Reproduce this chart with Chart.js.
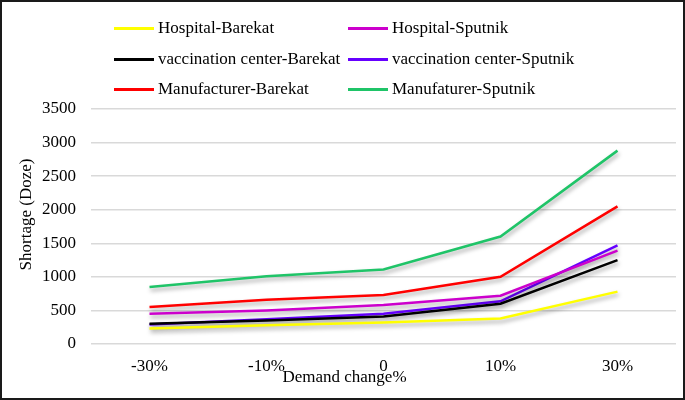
<!DOCTYPE html>
<html>
<head>
<meta charset="utf-8">
<script src="https://cdn.jsdelivr.net/npm/chart.js@4/dist/chart.umd.min.js"></script>
<style>
  html, body { margin:0; padding:0; background:#fff; }
  #wrap { position:relative; width:685px; height:400px; overflow:hidden; }
  #frame { position:absolute; left:0; top:0; width:685px; height:400px; box-sizing:border-box; border:2px solid #1a1a1a; pointer-events:none; }
  #legend { position:absolute; left:0; top:0; width:685px; font-family:'Liberation Serif', serif; font-size:17px; color:#000; }
  .lg-item { position:absolute; height:20px; line-height:20px; white-space:nowrap; }
  .lg-line { position:absolute; left:0; top:9px; width:40px; height:3px; }
  .lg-text { position:absolute; left:44px; top:0; }
</style>
</head>
<body>
<div id="wrap">
  <canvas id="chart" width="685" height="400"></canvas>
  <div id="legend"></div>
  <div id="frame"></div>
</div>
<script>
// ── Shortage vs demand change ──

const categories = ['-30%', '-10%', '0', '10%', '30%'];
const yTicks = [0, 500, 1000, 1500, 2000, 2500, 3000, 3500];

const hospitalBarekat   = [230, 280, 320, 380, 780];
const hospitalSputnik   = [450, 500, 580, 720, 1390];
const vaccCenterBarekat = [300, 350, 410, 600, 1250];
const vaccCenterSputnik = [290, 370, 450, 635, 1470];
const manufBarekat      = [550, 660, 730, 1000, 2050];
const manufSputnik      = [850, 1010, 1110, 1600, 2880];

const SERIES = [
  { label:'Hospital-Barekat',           data:hospitalBarekat,   color:'#ffff00' },
  { label:'Hospital-Sputnik',           data:hospitalSputnik,   color:'#cc00cc' },
  { label:'vaccination center-Barekat', data:vaccCenterBarekat, color:'#000000' },
  { label:'vaccination center-Sputnik', data:vaccCenterSputnik, color:'#6600ff' },
  { label:'Manufacturer-Barekat',       data:manufBarekat,      color:'#ff0000' },
  { label:'Manufaturer-Sputnik',        data:manufSputnik,      color:'#1fc468' },
];

const X_TITLE = 'Demand change%';
const Y_TITLE = 'Shortage (Doze)';
const FONT = { family:"'Liberation Serif', serif", size:17 };

// soft drop shadow under the lines
const shadowPlugin = {
  id:'lineShadow',
  beforeDatasetsDraw(chart) {
    const ctx = chart.ctx;
    ctx.save();
    ctx.shadowColor = 'rgba(0,0,0,0.35)';
    ctx.shadowBlur = 4;
    ctx.shadowOffsetX = 1;
    ctx.shadowOffsetY = 3;
  },
  afterDatasetsDraw(chart) { chart.ctx.restore(); }
};

// axis titles sit a little off-centre in the original, so draw them here
const titlePlugin = {
  id:'axisTitles',
  afterDraw(chart) {
    const { ctx, chartArea:a } = chart;
    ctx.save();
    ctx.font = `${FONT.size}px ${FONT.family}`;
    ctx.fillStyle = '#000';
    ctx.textAlign = 'center';
    ctx.textBaseline = 'middle';
    ctx.fillText(X_TITLE, (a.left + a.right) / 2 - 39, a.bottom + 34);
    ctx.translate(a.left - 64, (a.top + a.bottom) / 2 - 12);
    ctx.rotate(-Math.PI / 2);
    ctx.fillText(Y_TITLE, 0, 0);
    ctx.restore();
  }
};

new Chart(document.getElementById('chart'), {
  type:'line',
  data:{
    labels:categories,
    datasets:SERIES.map(s => ({
      label:s.label, data:s.data, borderColor:s.color, backgroundColor:s.color,
      borderWidth:2.5, pointRadius:0, tension:0, fill:false
    }))
  },
  options:{
    responsive:false, animation:false, devicePixelRatio:1,
    layout:{ padding:{ left:8, top:109, right:9, bottom:8 } },
    plugins:{ legend:{ display:false }, tooltip:{ enabled:false } },
    scales:{
      x:{
        offset:true,
        grid:{ display:false, drawTicks:false },
        border:{ display:false },
        ticks:{ color:'#000', font:FONT, padding:12, maxRotation:0 },
        afterFit(scale) { scale.height = 48; }
      },
      y:{
        min:0, max:3500,
        afterBuildTicks(scale) { scale.ticks = yTicks.map(v => ({ value:v })); },
        grid:{ color:'#d9d9d9', lineWidth:1.5, drawTicks:false },
        border:{ display:false },
        ticks:{ color:'#000', font:FONT, padding:15, callback:v => String(v) },
        afterFit(scale) { scale.width = 83; }
      }
    }
  },
  plugins:[shadowPlugin, titlePlugin]
});

// ── HTML legend, 2 columns x 3 rows ──
const LEG_COLS = [114, 348];
const LEG_ROWS = [18, 49, 79];
document.getElementById('legend').innerHTML = SERIES.map((s, i) =>
  `<div class="lg-item" style="left:${LEG_COLS[i % 2]}px;top:${LEG_ROWS[Math.floor(i / 2)]}px">
     <div class="lg-line" style="background:${s.color}"></div><span class="lg-text">${s.label}</span>
   </div>`).join('');
</script>
</body>
</html>
